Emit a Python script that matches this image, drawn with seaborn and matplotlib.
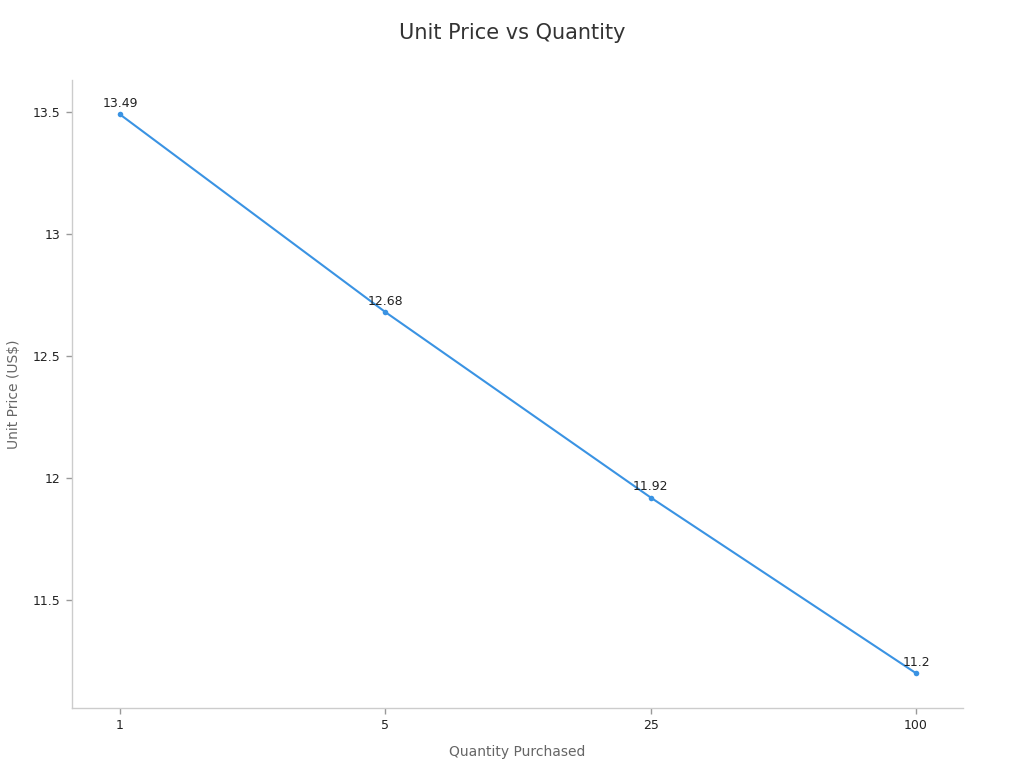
import matplotlib
matplotlib.use("Agg")
import matplotlib.pyplot as plt
import seaborn as sns
import pandas as pd

quantities = ["1", "5", "25", "100"]
unit_prices = [13.49, 12.68, 11.92, 11.2]
price_labels = ["13.49", "12.68", "11.92", "11.2"]

df = pd.DataFrame({"Quantity Purchased": quantities, "Unit Price (US$)": unit_prices})

sns.set_theme(style="white")
plt.rcParams['font.family'] = ['DejaVu Sans']

fig = plt.figure(figsize=(10.24, 7.68), dpi=100)
ax = fig.add_axes([0.0703, 0.078, 0.8701, 0.8178])

color = "#3a93e3"
sns.lineplot(data=df, x="Quantity Purchased", y="Unit Price (US$)", ax=ax,
             color=color, linewidth=1.5, marker="o", markersize=4,
             markeredgewidth=0, sort=False)

for i, (v, lab) in enumerate(zip(unit_prices, price_labels)):
    ax.annotate(lab, (i, v), xytext=(0, 3), textcoords="offset points",
                ha="center", va="bottom", fontsize=9, color="#222222")

ax.set_xlim(-0.181, 3.177)
ax.set_ylim(11.057, 13.631)
ax.set_yticks([11.5, 12, 12.5, 13, 13.5])
ax.set_yticklabels(["11.5", "12", "12.5", "13", "13.5"])

for side in ["top", "right"]:
    ax.spines[side].set_visible(False)
for side in ["left", "bottom"]:
    ax.spines[side].set_color("#cccccc")
    ax.spines[side].set_linewidth(1)

ax.tick_params(axis="both", which="both", length=4, width=1, color="#999999",
               labelsize=9, labelcolor="#222222", left=True, bottom=True, pad=4)

ax.set_xlabel("Quantity Purchased", fontsize=10, color="#666666", labelpad=9)
ax.set_ylabel("Unit Price (US$)", fontsize=10, color="#666666", labelpad=9)
fig.suptitle("Unit Price vs Quantity", fontsize=15, color="#333333", y=0.97)

fig.savefig("out.png", dpi=100)
